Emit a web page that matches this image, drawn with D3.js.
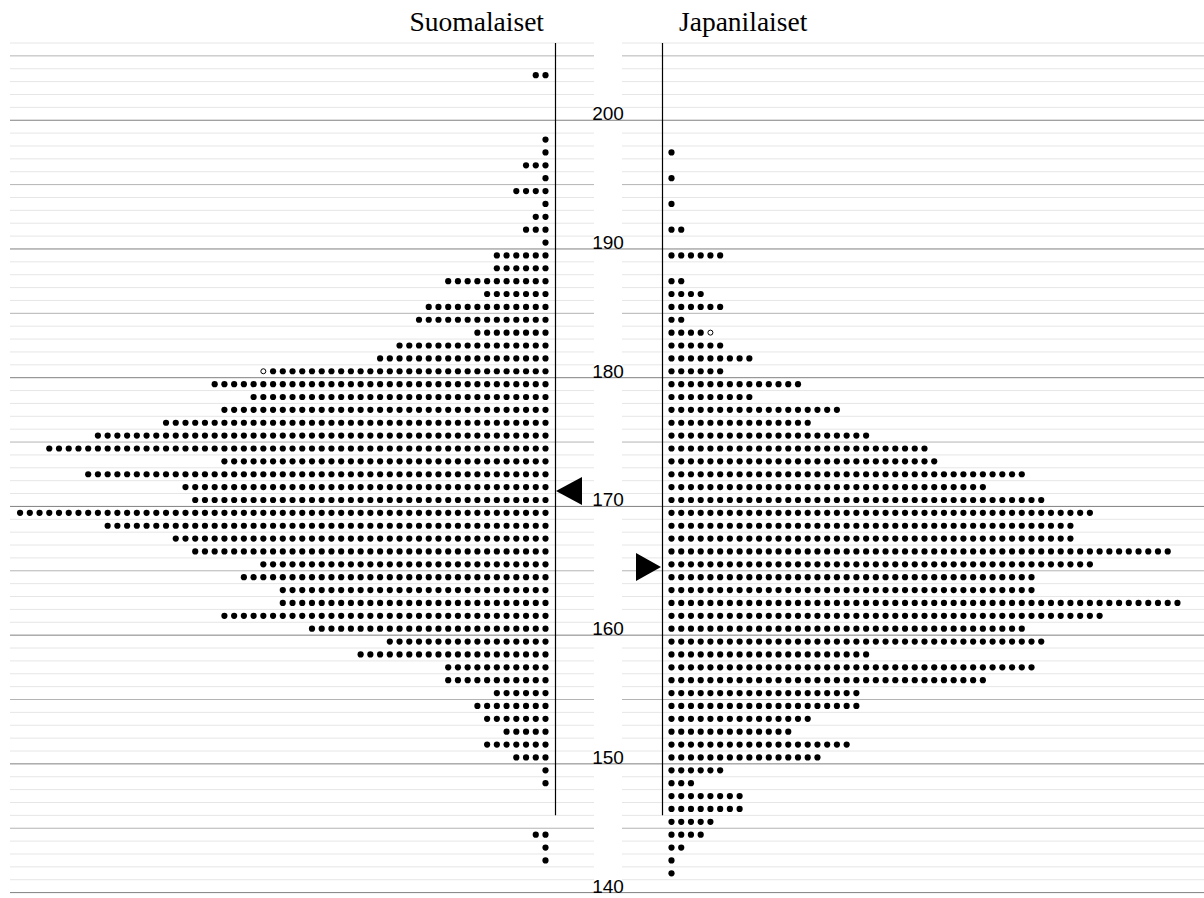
<!DOCTYPE html>
<html lang="fi">
<head>
  <meta charset="utf-8">
  <title>Suomalaisten ja japanilaisten pituusjakauma</title>
  <script src="https://cdn.jsdelivr.net/npm/d3@7"></script>
  <style>
    body { margin: 0; background: #fff; }
    svg { display: block; }
  </style>
</head>
<body>
  <div id="chart"></div>
  <script>
    // pituusluokat (cm) ja pisteiden lukumäärät, .5 = puolikas piste
    var pituusFi = [203, 198, 197, 196, 195, 194, 193, 192, 191, 190, 189, 188, 187, 186, 185, 184, 183, 182, 181, 180,
      179, 178, 177, 176, 175, 174, 173, 172, 171, 170, 169, 168, 167, 166, 165, 164, 163, 162, 161, 160,
      159, 158, 157, 156, 155, 154, 153, 152, 151, 150, 149, 148, 144, 143, 142];
    var maaraFi = [2, 1, 1, 3, 1, 4, 1, 2, 3, 1, 6, 6, 11, 7, 13, 14, 8, 16, 18, 29.5,
      35, 31, 34, 40, 47, 52, 34, 48, 38, 37, 55, 46, 39, 37, 30, 32, 28, 28, 34, 25,
      17, 20, 11, 11, 6, 8, 7, 5, 7, 4, 1, 1, 2, 1, 1];

    var pituusJa = [197, 195, 193, 191, 189, 187, 186, 185, 184, 183, 182, 181, 180,
      179, 178, 177, 176, 175, 174, 173, 172, 171, 170, 169, 168, 167, 166, 165, 164, 163, 162, 161, 160,
      159, 158, 157, 156, 155, 154, 153, 152, 151, 150, 149, 148, 147, 146, 145, 144, 143, 142, 141];
    var maaraJa = [1, 1, 1, 2, 6, 2, 4, 6, 2, 4.5, 6, 9, 6,
      14, 9, 18, 15, 21, 27, 28, 37, 33, 39, 44, 42, 42, 52, 44, 38, 38, 53, 45, 37,
      39, 21, 38, 33, 20, 20, 15, 13, 19, 16, 6, 3, 8, 8, 5, 4, 2, 1, 1];

    var keskiarvoFi = 171.2;
    var keskiarvoJa = 165.3;
    var otsikot = ["Suomalaiset", "Japanilaiset"];
    var tickArvot = [140, 150, 160, 170, 180, 190, 200];

    var width = 1204, height = 898;

    var svg = d3.select("#chart")
      .append("svg")
      .attr("width", width)
      .attr("height", height);

    var y = d3.scaleLinear().domain([140, 206]).range([892.6, 43]);
    // pisteen järjestysnumero -> x
    var xFi = d3.scaleLinear().domain([0, 50]).range([545.5, 545.5 - 50 * 9.73]);
    var xJa = d3.scaleLinear().domain([0, 50]).range([671.5, 671.5 + 50 * 9.73]);

    // vaakaviivat
    var rivit = d3.range(140, 207);
    var grid = svg.append("g");
    rivit.forEach(function (h) {
      var yy = y(h);
      if (h % 10 == 0) {
        grid.append("line")
          .attr("x1", 10).attr("x2", width)
          .attr("y1", yy).attr("y2", yy)
          .attr("stroke", "#808080").attr("stroke-width", 1);
      } else {
        var col = (h % 5 == 0) ? "#b4b4b4" : "#e6e6e6";
        [[10, 594], [622, width]].forEach(function (p) {
          grid.append("line")
            .attr("x1", p[0]).attr("x2", p[1])
            .attr("y1", yy).attr("y2", yy)
            .attr("stroke", col).attr("stroke-width", 1);
        });
      }
    });

    // pystyakselit
    [555.5, 662.5].forEach(function (xx) {
      svg.append("line")
        .attr("x1", xx).attr("x2", xx)
        .attr("y1", y(206)).attr("y2", y(146))
        .attr("stroke", "black").attr("stroke-width", 1.2);
    });

    function pisteet(pituus, maara, x) {
      var out = [];
      pituus.forEach(function (h, i) {
        var n = maara[i];
        var kok = Math.floor(n);
        for (var k = 0; k < kok; k++) out.push({ h: h, k: k, puoli: false });
        if (n > kok) out.push({ h: h, k: kok, puoli: true });
      });
      var g = svg.append("g");
      g.selectAll("circle")
        .data(out)
        .enter()
        .append("circle")
        .attr("cx", function (d) { return x(d.k); })
        .attr("cy", function (d) { return y(d.h + 0.5); })
        .attr("r", function (d) { return d.puoli ? 2.5 : 3.1; })
        .attr("fill", function (d) { return d.puoli ? "white" : "black"; })
        .attr("stroke", function (d) { return d.puoli ? "black" : "none"; })
        .attr("stroke-width", 1);
    }
    pisteet(pituusFi, maaraFi, xFi);
    pisteet(pituusJa, maaraJa, xJa);

    // keskiarvokolmiot
    var yF = y(keskiarvoFi);
    svg.append("path")
      .attr("d", "M556," + yF + "L582," + (yF - 14) + "L582," + (yF + 14) + "Z")
      .attr("fill", "black");
    var yJ = y(keskiarvoJa);
    svg.append("path")
      .attr("d", "M661," + yJ + "L636," + (yJ - 14) + "L636," + (yJ + 14) + "Z")
      .attr("fill", "black");

    // asteikon luvut
    svg.append("g")
      .selectAll("text")
      .data(tickArvot)
      .enter()
      .append("text")
      .attr("x", 608)
      .attr("y", function (d) { return y(d); })
      .attr("text-anchor", "middle")
      .style("font-family", "'Liberation Sans', Arial, sans-serif")
      .style("font-size", "19px")
      .text(function (d) { return d; });

    // otsikot
    svg.append("text")
      .attr("x", 544).attr("y", 31)
      .attr("text-anchor", "end")
      .style("font-family", "'Liberation Serif', 'Times New Roman', serif")
      .style("font-size", "27.5px")
      .text(otsikot[0]);
    svg.append("text")
      .attr("x", 679).attr("y", 31)
      .attr("text-anchor", "start")
      .style("font-family", "'Liberation Serif', 'Times New Roman', serif")
      .style("font-size", "27.5px")
      .text(otsikot[1]);
  </script>
</body>
</html>
